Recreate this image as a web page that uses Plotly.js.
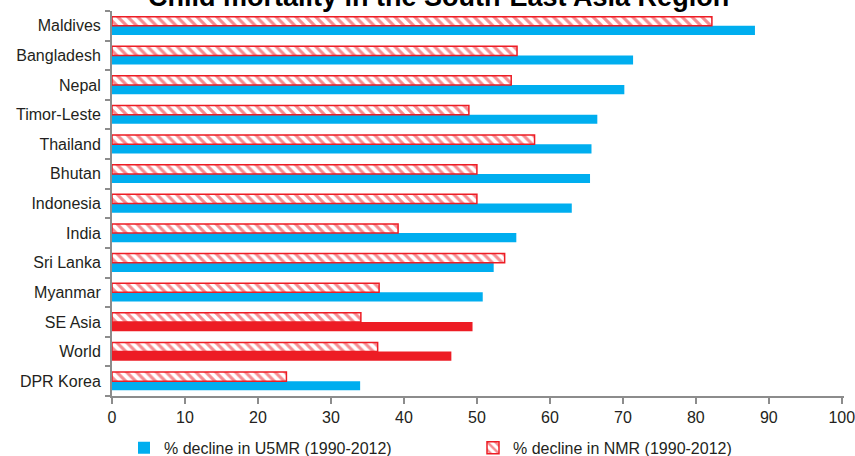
<!DOCTYPE html>
<html>
<head>
<meta charset="utf-8">
<script src="https://cdn.plot.ly/plotly-3.0.1.min.js"></script>
<style>html,body{margin:0;padding:0;background:#fff;}#chart{width:855px;height:456px;}</style>
</head>
<body>
<div id="chart"></div>
<script>
const categories = ["Maldives","Bangladesh","Nepal","Timor-Leste","Thailand","Bhutan","Indonesia","India","Sri Lanka","Myanmar","SE Asia","World","DPR Korea"];
const u5mrDecline = [88.1, 71.4, 70.2, 66.5, 65.7, 65.5, 63.0, 55.4, 52.3, 50.8, 49.4, 46.5, 34.0];
const nmrDecline  = [82.2, 55.5, 54.7, 48.9, 57.9, 50.0, 50.0, 39.2, 53.8, 36.6, 34.1, 36.4, 23.9];
const xTicks = [0,10,20,30,40,50,60,70,80,90,100];
const seriesNames = ["% decline in U5MR (1990-2012)", "% decline in NMR (1990-2012)"];
const aggregateRows = ["SE Asia", "World"];

const BLUE = "#00AEEF", RED = "#ED1C24";
const FONT = "Liberation Sans, Arial, sans-serif";

const u5Colors = categories.map(c => aggregateRows.includes(c) ? RED : BLUE);

const traces = [
  {
    type: "bar", orientation: "h", name: seriesNames[0], legend: "legend",
    y: categories, x: u5mrDecline,
    marker: {color: u5Colors, line: {width: 0}},
    hoverinfo: "x+y"
  },
  {
    type: "bar", orientation: "h", name: seriesNames[1], legend: "legend2",
    y: categories, x: nmrDecline,
    marker: {color: "#ffffff", line: {color: RED, width: 1.5},
      pattern: {shape: "\\", fgcolor: RED, bgcolor: "#ffffff", size: 7, solidity: 0.45, fillmode: "overlay"}},
    hoverinfo: "x+y"
  }
];

const legendBase = {orientation: "h", xref: "container", yref: "container",
  xanchor: "left", y: 0.018, yanchor: "middle",
  font: {family: FONT, size: 16, color: "#231f20"},
  bgcolor: "rgba(0,0,0,0)", borderwidth: 0};

const layout = {
  width: 855, height: 456,
  margin: {l: 112, r: 11, t: 11, b: 60},
  paper_bgcolor: "#ffffff", plot_bgcolor: "#ffffff",
  barmode: "group", bargap: 0.38, bargroupgap: 0,
  title: {text: "<b>Child mortality in the South-East Asia Region</b>",
    font: {family: "Liberation Sans, Arial, sans-serif", size: 27, color: "#000"},
    x: 0.513, xanchor: "center", xref: "container",
    y: 0.987, yanchor: "bottom", yref: "container"},
  xaxis: {
    range: [0, 100.3], tickmode: "array", tickvals: xTicks, ticktext: xTicks.map(String),
    showgrid: false, zeroline: false,
    showline: true, linecolor: "#8c8c8c", linewidth: 2,
    ticks: "outside", ticklen: 6, tickwidth: 2, tickcolor: "#8c8c8c",
    tickfont: {family: FONT, size: 16, color: "#231f20"},
    ticklabeloverflow: "allow",
    fixedrange: true
  },
  yaxis: {
    type: "category", categoryorder: "array", categoryarray: categories.slice().reverse(),
    showgrid: false, zeroline: false,
    showline: true, linecolor: "#8c8c8c", linewidth: 2,
    ticks: "outside", ticklen: 5, tickwidth: 2, tickcolor: "#8c8c8c",
    tickson: "boundaries", ticklabelstandoff: 6,
    tickfont: {family: FONT, size: 16, color: "#231f20"},
    fixedrange: true
  },
  showlegend: true,
  legend: Object.assign({}, legendBase, {x: 124/855}),
  legend2: Object.assign({}, legendBase, {x: 473/855})
};

Plotly.newPlot("chart", traces, layout, {displayModeBar: false, staticPlot: true});
</script>
</body>
</html>
